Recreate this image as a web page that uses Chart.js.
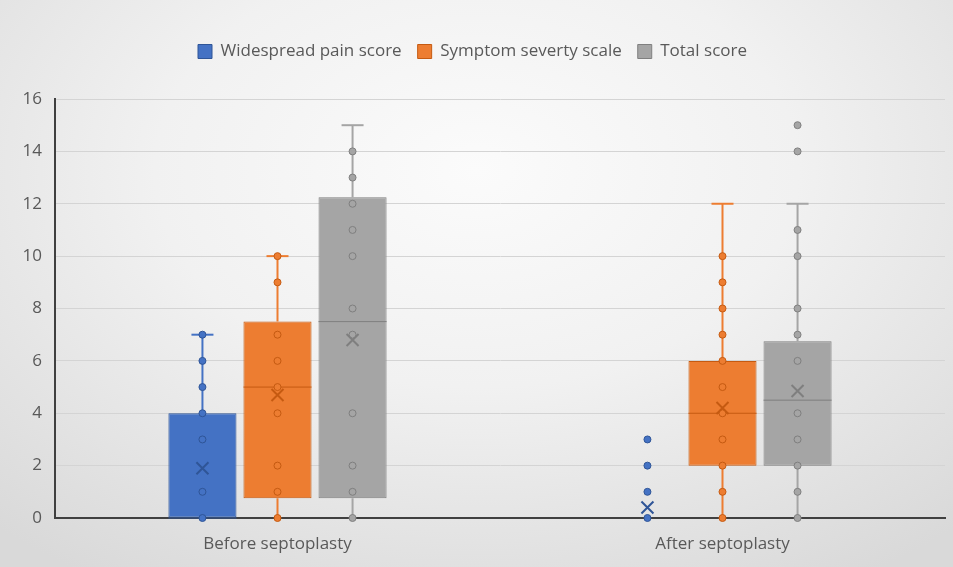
<!DOCTYPE html>
<html>
<head>
<meta charset="utf-8">
<script src="https://cdn.jsdelivr.net/npm/chart.js@4.4.0/dist/chart.umd.min.js"></script>
<style>
    html, body { margin: 0; padding: 0; }
    body {
        width: 953px;
        height: 567px;
        background: radial-gradient(ellipse 75% 85% at 50% 30%, #fbfbfb 0%, #f1f1f1 45%, #d9d9d9 100%);
    }
</style>
</head>
<body>
<canvas id="boxChart" width="953" height="567"></canvas>
<script>
// Dữ liệu
const categories = ['Before septoplasty', 'After septoplasty'];
const seriesNames = ['Widespread pain score', 'Symptom severty scale', 'Total score'];

const painQ1 = [0, 0];
const painMedian = [0, 0];
const painQ3 = [4, 0];
const painMin = [0, 0];
const painMax = [7, 0];
const painMean = [1.9, 0.4];
const painPoints = [[0, 1, 3, 4, 5, 6, 7], [0, 1, 2, 3]];

const severityQ1 = [0.75, 2];
const severityMedian = [5, 4];
const severityQ3 = [7.5, 6];
const severityMin = [0, 0];
const severityMax = [10, 12];
const severityMean = [4.7, 4.2];
const severityPoints = [[0, 1, 2, 4, 5, 6, 7, 9, 10], [0, 1, 2, 3, 4, 5, 6, 7, 8, 9, 10]];

const totalQ1 = [0.75, 2];
const totalMedian = [7.5, 4.5];
const totalQ3 = [12.25, 6.75];
const totalMin = [0, 0];
const totalMax = [15, 12];
const totalMean = [6.8, 4.85];
const totalPoints = [[0, 1, 2, 4, 7, 8, 10, 11, 12, 13, 14], [0, 1, 2, 3, 4, 6, 7, 8, 10, 11, 14, 15]];

const yTicks = [0, 2, 4, 6, 8, 10, 12, 14, 16];

const colors = ['#4472C4', '#ED7D31', '#A5A5A5'];
const darkColors = ['#2F5597', '#C55A11', '#7F7F7F'];

const stats = [
    { q1: painQ1, median: painMedian, q3: painQ3, min: painMin, max: painMax, mean: painMean, points: painPoints },
    { q1: severityQ1, median: severityMedian, q3: severityQ3, min: severityMin, max: severityMax, mean: severityMean, points: severityPoints },
    { q1: totalQ1, median: totalMedian, q3: totalQ3, min: totalMin, max: totalMax, mean: totalMean, points: totalPoints }
];

// Vẽ râu, trung vị, trung bình và các điểm
const boxExtras = {
    id: 'boxExtras',
    afterDatasetsDraw(chart) {
        const ctx = chart.ctx;
        const y = chart.scales.y;
        stats.forEach((s, i) => {
            const meta = chart.getDatasetMeta(i);
            meta.data.forEach((bar, j) => {
                const cx = bar.x;
                const half = bar.width / 2;
                ctx.save();
                // râu
                if (s.max[j] > s.q3[j] || s.min[j] < s.q1[j]) {
                    ctx.strokeStyle = colors[i];
                    ctx.lineWidth = 2;
                    ctx.beginPath();
                    ctx.moveTo(cx, y.getPixelForValue(s.q3[j]));
                    ctx.lineTo(cx, y.getPixelForValue(s.max[j]));
                    ctx.moveTo(cx, y.getPixelForValue(s.q1[j]));
                    ctx.lineTo(cx, y.getPixelForValue(s.min[j]));
                    ctx.stroke();
                    ctx.beginPath();
                    ctx.moveTo(cx - 11, y.getPixelForValue(s.max[j]));
                    ctx.lineTo(cx + 11, y.getPixelForValue(s.max[j]));
                    ctx.stroke();
                }
                // trung vị
                if (s.q3[j] > s.q1[j]) {
                    ctx.strokeStyle = darkColors[i];
                    ctx.lineWidth = 1;
                    ctx.beginPath();
                    ctx.moveTo(cx - half, y.getPixelForValue(s.median[j]));
                    ctx.lineTo(cx + half, y.getPixelForValue(s.median[j]));
                    ctx.stroke();
                }
                // điểm
                s.points[j].forEach(v => {
                    ctx.beginPath();
                    ctx.arc(cx, y.getPixelForValue(v), 3.5, 0, Math.PI * 2);
                    ctx.fillStyle = colors[i];
                    ctx.fill();
                    ctx.lineWidth = 1;
                    ctx.strokeStyle = darkColors[i];
                    ctx.stroke();
                });
                // dấu X trung bình
                const my = y.getPixelForValue(s.mean[j]);
                ctx.strokeStyle = darkColors[i];
                ctx.lineWidth = 2;
                ctx.beginPath();
                ctx.moveTo(cx - 6, my - 6);
                ctx.lineTo(cx + 6, my + 6);
                ctx.moveTo(cx + 6, my - 6);
                ctx.lineTo(cx - 6, my + 6);
                ctx.stroke();
                ctx.restore();
            });
        });
    }
};

// Cố định chiều cao chú thích
const legendHeight = {
    id: 'legendHeight',
    beforeInit(chart) {
        const fit = chart.legend.fit;
        chart.legend.fit = function () {
            fit.bind(chart.legend)();
            this.height = 72;
        };
    }
};

const datasets = stats.map((s, i) => ({
    label: seriesNames[i],
    data: s.q1.map((q, j) => [q, s.q3[j]]),
    backgroundColor: colors[i],
    borderColor: darkColors[i],
    borderWidth: 1,
    borderSkipped: false,
    categoryPercentage: 0.506,
    barPercentage: 0.907
}));

const ctx = document.getElementById('boxChart').getContext('2d');
new Chart(ctx, {
    type: 'bar',
    data: {
        labels: categories,
        datasets: datasets
    },
    options: {
        responsive: false,
        animation: false,
        layout: {
            padding: { top: 27, right: 8, left: 0, bottom: 0 }
        },
        plugins: {
            legend: {
                position: 'top',
                labels: {
                    boxWidth: 14,
                    boxHeight: 14,
                    padding: 16,
                    color: '#595959',
                    font: { family: 'Open Sans', size: 17 }
                }
            },
            tooltip: { enabled: false }
        },
        scales: {
            x: {
                grid: { display: false, drawTicks: false },
                border: { color: '#404040', width: 2 },
                ticks: {
                    color: '#595959',
                    padding: 16,
                    font: { family: 'Open Sans', size: 17 }
                },
                afterFit: scale => { scale.height = 49; }
            },
            y: {
                min: 0,
                max: 16,
                afterBuildTicks: scale => { scale.ticks = yTicks.map(v => ({ value: v })); },
                grid: { color: '#d4d4d4', drawTicks: false },
                border: { color: '#404040', width: 2 },
                ticks: {
                    color: '#595959',
                    padding: 13,
                    font: { family: 'Open Sans', size: 17 }
                },
                afterFit: scale => { scale.width = 55; }
            }
        }
    },
    plugins: [boxExtras, legendHeight]
});
</script>
</body>
</html>
